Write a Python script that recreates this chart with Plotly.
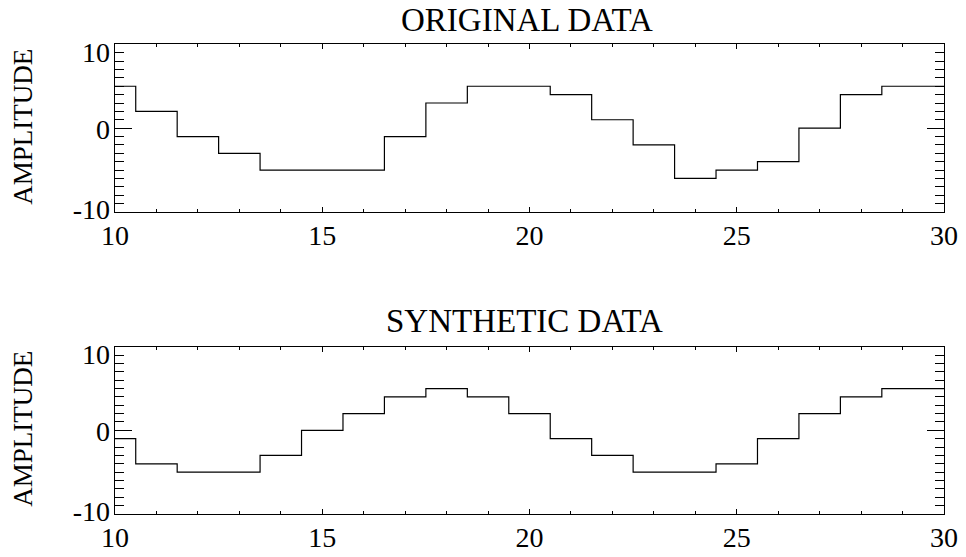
import plotly.graph_objects as go

# ---- data ----
x_vals = list(range(10, 31))
original = [5, 2, -1, -3, -5, -5, -5, -1, 3, 5, 5, 4, 1, -2, -6, -5, -4, 0, 4, 5, 5]
synthetic = [-1, -4, -5, -5, -3, 0, 2, 4, 5, 4, 2, -1, -3, -5, -5, -4, -1, 2, 4, 5, 5]
x_ticks = [10, 15, 20, 25, 30]
y_ticks = [-10, 0, 10]
y_tick_text = ["-10", "0", "10"]
titles = ["ORIGINAL DATA", "SYNTHETIC DATA"]
y_title = "AMPLITUDE"

W, H = 966, 557
FONT = "Liberation Serif"

x_dom = [115 / W, 944 / W]
y_doms = [[1 - 212 / H, 1 - 44.3 / H], [1 - 514 / H, 1 - 346.7 / H]]

# IDL nudges the end labels inward; label positions in data units
label_nudge = [0.35, -0.08, -0.9]
label_pos = [v + s for v, s in zip(y_ticks, label_nudge)]

fig = go.Figure()
series = [original, synthetic]
for i, ys in enumerate(series):
    n = i + 1
    xa = "x" if n == 1 else f"x{n}"
    fig.add_trace(go.Scatter(
        x=x_vals, y=ys, mode="lines", line=dict(shape="hvh", color="black", width=1.2),
        xaxis=xa, yaxis="y" if n == 1 else f"y{n}",
        showlegend=False, hoverinfo="skip"))
    # empty trace so the label-carrying overlay axis gets drawn
    fig.add_trace(go.Scatter(x=[], y=[], mode="lines", xaxis=xa, yaxis=f"y{n + 2}",
                             showlegend=False, hoverinfo="skip"))

layout = dict(
    width=W, height=H, autosize=False, paper_bgcolor="white", plot_bgcolor="white",
    margin=dict(l=0, r=0, t=0, b=0, pad=0, autoexpand=False), showlegend=False,
    font=dict(family=FONT, color="black", size=27),
)

for i in range(2):
    n = i + 1
    xs = "" if n == 1 else str(n)
    ys = "" if n == 1 else str(n)
    layout[f"xaxis{xs}"] = dict(
        domain=x_dom, anchor=f"y{ys}", range=[10, 30], automargin=False,
        tickvals=x_ticks, ticks="inside", ticklen=5, tickwidth=1, tickcolor="black",
        minor=dict(dtick=1, ticks="inside", ticklen=3, tickwidth=1, tickcolor="black"),
        showline=True, linecolor="black", linewidth=1.2, mirror="ticks",
        showgrid=False, zeroline=False, ticklabelstandoff=-2,
        tickfont=dict(family=FONT, size=28, color="black"),
    )
    layout[f"yaxis{ys}"] = dict(
        domain=y_doms[i], anchor=f"x{xs}", range=[-10, 10], automargin=False,
        tickvals=y_ticks, ticks="inside", ticklen=17,
        tickwidth=1, tickcolor="black",
        minor=dict(dtick=1, ticks="inside", ticklen=8.5, tickwidth=1, tickcolor="black"),
        showline=True, linecolor="black", linewidth=1.2, mirror="ticks",
        showgrid=False, zeroline=False, showticklabels=False,
    )
    layout[f"yaxis{n + 2}"] = dict(
        overlaying=f"y{ys}", anchor=f"x{xs}", side="left", range=[-10, 10],
        automargin=False, tickvals=label_pos, ticktext=y_tick_text,
        ticks="", showline=False, showgrid=False, zeroline=False,
        ticklabelstandoff=4,
        tickfont=dict(family=FONT, size=28, color="black"),
    )

annotations = [
    dict(text=titles[0], xref="paper", yref="paper",
         x=(x_dom[0] + x_dom[1]) / 2 - 3 / W, y=1.0,
         xanchor="center", yanchor="top", showarrow=False,
         font=dict(family=FONT, size=33, color="black")),
    dict(text=titles[1], xref="paper", yref="paper",
         x=(x_dom[0] + x_dom[1]) / 2 - 5 / W, y=1 - 321 / H,
         xanchor="center", yanchor="middle", showarrow=False,
         font=dict(family=FONT, size=33, color="black")),
]
for i in range(2):
    annotations.append(dict(
        text=y_title, xref="paper", yref="paper", textangle=-90,
        x=23.5 / W, y=(y_doms[i][0] + y_doms[i][1]) / 2 + 1 / H,
        xanchor="center", yanchor="middle", showarrow=False,
        font=dict(family=FONT, size=27, color="black")))
layout["annotations"] = annotations

fig.update_layout(**layout)
fig.write_html("out.html", config={"displayModeBar": False},
               post_script="document.body.style.margin='0';")
